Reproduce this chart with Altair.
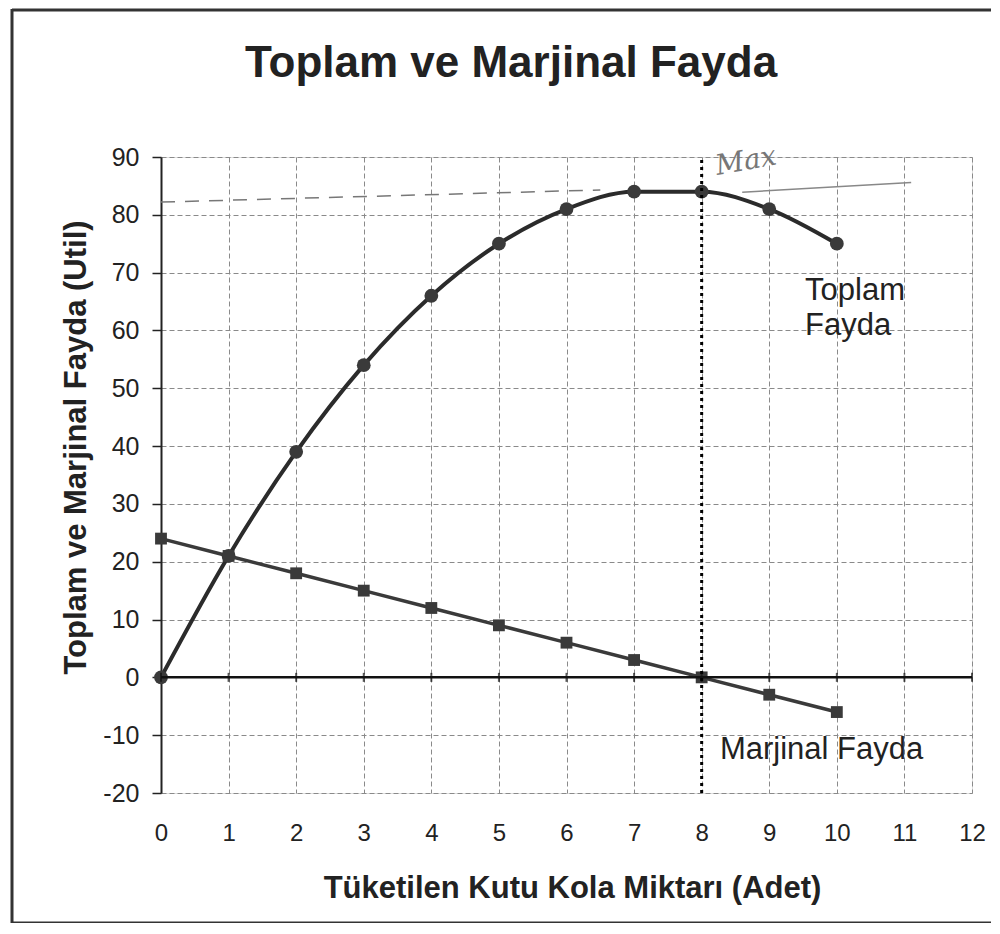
import altair as alt
import pandas as pd

# ---- data ----
qty = [0, 1, 2, 3, 4, 5, 6, 7, 8, 9, 10]
total_utility = [0, 21, 39, 54, 66, 75, 81, 84, 84, 81, 75]
marginal_utility = [24, 21, 18, 15, 12, 9, 6, 3, 0, -3, -6]
x_ticks = [0, 1, 2, 3, 4, 5, 6, 7, 8, 9, 10, 11, 12]
y_ticks = [-20, -10, 0, 10, 20, 30, 40, 50, 60, 70, 80, 90]
max_qty = 8

chart_title = "Toplam ve Marjinal Fayda"
x_title = "Tüketilen Kutu Kola Miktarı (Adet)"
y_title = "Toplam ve Marjinal Fayda (Util)"

label_texts = ["Toplam", "Fayda", "Marjinal Fayda"]
label_x = [9.53, 9.53, 8.27]
label_y = [65.2, 59.2, -14.2]

note_text = ["Max"]
note_x = [8.23]
note_y = [86.9]

hand_dash_x = [0, 6.5]
hand_dash_y = [82.2, 84.3]
hand_solid_x = [8.6, 11.1]
hand_solid_y = [83.9, 85.6]

FONT = "Liberation Sans"
INK = "#222222"

df = pd.DataFrame({"x": qty, "tu": total_utility, "mu": marginal_utility})
lab = pd.DataFrame({"t": label_texts, "x": label_x, "y": label_y})
note = pd.DataFrame({"t": note_text, "x": note_x, "y": note_y})
hd = pd.DataFrame({"x": hand_dash_x, "y": hand_dash_y})
hs = pd.DataFrame({"x": hand_solid_x, "y": hand_solid_y})
ticks_df = pd.DataFrame({"x": x_ticks, "y": [0] * len(x_ticks)})

xscale = alt.Scale(domain=[0, 12], nice=False, zero=False)
yscale = alt.Scale(domain=[-20, 90], nice=False, zero=False)

xaxis = alt.Axis(
    values=x_ticks, grid=True, gridDash=[5, 3], gridColor="#8a8a8a", gridWidth=1,
    domain=False, ticks=False, tickSize=0, labelPadding=40, labelBaseline="middle",
    labelFont=FONT, labelFontSize=24, labelColor=INK, labelFlush=False,
    title=x_title, titleFont=FONT, titleFontSize=31, titleFontWeight="bold",
    titleColor=INK, titleX=411, titleY=104, titleBaseline="alphabetic",
    titleAlign="center",
)
yaxis = alt.Axis(
    values=y_ticks, grid=True, gridDash=[5, 3], gridColor="#8a8a8a", gridWidth=1,
    domain=True, domainColor=INK, domainWidth=2, ticks=True, tickSize=9,
    tickColor=INK, tickWidth=1.5, labelPadding=13, labelFont=FONT,
    labelFontSize=25, labelColor=INK, labelFlush=False,
    labelExpr="replace(datum.label, '\u2212', '-')",
    title=y_title, titleFont=FONT, titleFontSize=31, titleFontWeight="bold",
    titleColor=INK, titleX=-85, titleY=290, titleAngle=270,
    titleBaseline="middle", titleAlign="center",
)


def X(field="x"):
    return alt.X(f"{field}:Q", scale=xscale, axis=xaxis)


def Y(field="y"):
    return alt.Y(f"{field}:Q", scale=yscale, axis=yaxis)


base = alt.Chart(df)

total_line = base.mark_line(
    color="#2b2b2b", strokeWidth=4, interpolate="monotone"
).encode(x=X(), y=Y("tu"))
total_pts = base.mark_point(
    shape="circle", filled=True, size=190, color="#3a3a3a", opacity=1
).encode(x=X(), y=Y("tu"))

marg_line = base.mark_line(color="#3a3a3a", strokeWidth=3.5).encode(x=X(), y=Y("mu"))
marg_pts = base.mark_point(
    shape="square", filled=True, size=140, color="#3a3a3a", opacity=1
).encode(x=X(), y=Y("mu"))

zero_line = alt.Chart(pd.DataFrame({"x": [0], "x2": [12], "y": [0]})).mark_rule(
    color="#111111", strokeWidth=2.5
).encode(x=X(), x2="x2:Q", y=Y())
zero_ticks = alt.Chart(ticks_df).mark_tick(
    orient="vertical", size=9, thickness=2, color="#111111"
).encode(x=X(), y=Y())

max_line = alt.Chart(pd.DataFrame({"x": [max_qty], "y": [-20], "y2": [90]})).mark_rule(
    color="#000000", strokeWidth=3, strokeDash=[3, 4]
).encode(x=X(), y=Y(), y2="y2:Q")

hand_dash = alt.Chart(hd).mark_line(
    color="#777777", strokeWidth=1.5, strokeDash=[14, 10]
).encode(x=X(), y=Y())
hand_solid = alt.Chart(hs).mark_line(color="#888888", strokeWidth=1.5).encode(
    x=X(), y=Y()
)
note_mark = alt.Chart(note).mark_text(
    font="DejaVu Serif", fontStyle="italic", fontSize=28, color="#777777",
    align="left", baseline="alphabetic", angle=350,
).encode(x=X(), y=Y(), text="t:N")

labels = alt.Chart(lab).mark_text(
    font=FONT, fontSize=31, color=INK, align="left", baseline="alphabetic"
).encode(x=X(), y=Y(), text="t:N")

title_mark = alt.Chart(pd.DataFrame({"t": [chart_title]})).mark_text(
    font=FONT, fontSize=44, fontWeight="bold", color=INK,
    align="center", baseline="alphabetic",
).encode(x=alt.value(350), y=alt.value(-80), text="t:N")

frame_left = alt.Chart(pd.DataFrame({"a": [0]})).mark_rule(
    color="#333333", strokeWidth=3
).encode(x=alt.value(-149), y=alt.value(-148), y2=alt.value(766))
frame_top = alt.Chart(pd.DataFrame({"a": [0]})).mark_rule(
    color="#333333", strokeWidth=3
).encode(x=alt.value(-149), x2=alt.value(830), y=alt.value(-147))
frame_bottom = alt.Chart(pd.DataFrame({"a": [0]})).mark_rule(
    color="#333333", strokeWidth=3
).encode(x=alt.value(-149), x2=alt.value(830), y=alt.value(766))

chart = alt.layer(
    total_line, total_pts, hand_dash, hand_solid, marg_line, marg_pts,
    zero_line, zero_ticks, max_line, note_mark, labels, title_mark,
    frame_left, frame_top, frame_bottom,
).properties(
    width=811, height=636,
    autosize=alt.AutoSizeParams(type="none"),
    padding={"left": 153, "top": 149, "right": 20, "bottom": 130},
).configure_view(stroke="transparent").configure(background="white")

chart.save("out.html", embed_options={"renderer": "svg", "actions": False})
